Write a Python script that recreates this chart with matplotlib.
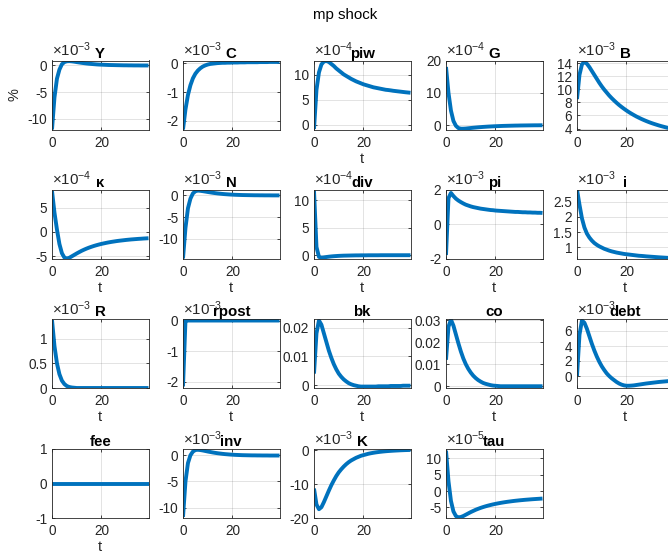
import matplotlib
matplotlib.use("Agg")
import matplotlib.pyplot as plt
import numpy as np

plt.rcParams['font.family'] = ['Liberation Sans', 'DejaVu Sans']
plt.rcParams['mathtext.fontset'] = 'custom'
plt.rcParams['mathtext.rm'] = 'Liberation Sans'

t = list(range(40))

names = ['Y', 'C', 'piw', 'G', 'B',
         'κ', 'N', 'div', 'pi', 'i',
         'R', 'rpost', 'bk', 'co', 'debt',
         'fee', 'inv', 'K', 'tau']

Y = [-12.0, -6.0, -2.5, -0.8, 0.2, 0.6, 0.75, 0.78, 0.74, 0.68, 0.6, 0.53, 0.46, 0.4, 0.34, 0.29, 0.25, 0.21, 0.17, 0.14,
     0.12, 0.1, 0.08, 0.06, 0.05, 0.04, 0.03, 0.02, 0.01, 0.0, 0.0, -0.01, -0.01, -0.02, -0.02, -0.02, -0.03, -0.03, -0.03, -0.03]
C = [-2.3, -1.6, -1.1, -0.76, -0.52, -0.36, -0.25, -0.17, -0.11, -0.07, -0.04, -0.02, -0.01, 0.0, 0.01, 0.015, 0.02, 0.02, 0.025, 0.025,
     0.03, 0.03, 0.03, 0.035, 0.035, 0.035, 0.04, 0.04, 0.04, 0.04, 0.04, 0.045, 0.045, 0.045, 0.045, 0.05, 0.05, 0.05, 0.05, 0.05]
piw = [-0.9, 7.0, 10.5, 12.1, 12.7, 12.8, 12.6, 12.2, 11.8, 11.3, 10.9, 10.5, 10.1, 9.8, 9.5, 9.2, 8.95, 8.7, 8.5, 8.3,
       8.1, 7.95, 7.8, 7.65, 7.5, 7.4, 7.3, 7.2, 7.1, 7.0, 6.95, 6.88, 6.8, 6.74, 6.68, 6.62, 6.56, 6.5, 6.45, 6.4]
G = [18.0, 10.0, 4.5, 1.3, -0.2, -0.9, -1.1, -1.1, -1.05, -0.97, -0.89, -0.81, -0.74, -0.67, -0.61, -0.55, -0.5, -0.45, -0.41, -0.37,
     -0.33, -0.3, -0.27, -0.24, -0.22, -0.2, -0.18, -0.16, -0.14, -0.13, -0.11, -0.1, -0.09, -0.08, -0.07, -0.06, -0.05, -0.05, -0.04, -0.04]
B = [8.5, 12.2, 13.8, 14.2, 13.9, 13.4, 12.8, 12.2, 11.6, 11.0, 10.45, 9.95, 9.5, 9.05, 8.65, 8.28, 7.93, 7.6, 7.3, 7.02,
     6.75, 6.5, 6.27, 6.05, 5.84, 5.65, 5.47, 5.3, 5.14, 4.99, 4.85, 4.72, 4.6, 4.48, 4.37, 4.27, 4.17, 4.08, 3.99, 3.9]
kappa = [8.5, 4.0, 0.5, -2.5, -4.4, -5.3, -5.5, -5.35, -5.05, -4.75, -4.45, -4.17, -3.9, -3.66, -3.44, -3.24, -3.06, -2.89, -2.74, -2.6,
         -2.47, -2.36, -2.25, -2.15, -2.06, -1.98, -1.9, -1.83, -1.77, -1.71, -1.65, -1.6, -1.55, -1.51, -1.47, -1.43, -1.4, -1.36, -1.33, -1.3]
N = [-14.5, -7.5, -3.0, -0.8, 0.4, 0.9, 1.05, 1.0, 0.92, 0.83, 0.73, 0.64, 0.55, 0.47, 0.4, 0.34, 0.28, 0.23, 0.19, 0.15,
     0.12, 0.09, 0.07, 0.05, 0.03, 0.02, 0.01, 0.0, -0.01, -0.02, -0.02, -0.03, -0.03, -0.04, -0.04, -0.04, -0.05, -0.05, -0.05, -0.05]
div = [11.8, 1.5, -0.3, -0.45, -0.4, -0.33, -0.27, -0.22, -0.18, -0.15, -0.12, -0.1, -0.08, -0.07, -0.06, -0.05, -0.04, -0.03, -0.03, -0.02,
       -0.02, -0.02, -0.01, -0.01, -0.01, -0.01, -0.01, 0.0, 0.0, 0.0, 0.0, 0.0, 0.0, 0.0, 0.0, 0.0, 0.0, 0.0, 0.0, 0.0]
pi_ = [-1.8, 1.5, 1.8, 1.62, 1.47, 1.36, 1.27, 1.19, 1.12, 1.07, 1.02, 0.98, 0.95, 0.92, 0.89, 0.87, 0.85, 0.83, 0.81, 0.8,
       0.78, 0.77, 0.76, 0.75, 0.74, 0.73, 0.72, 0.71, 0.7, 0.7, 0.69, 0.68, 0.68, 0.67, 0.67, 0.66, 0.66, 0.65, 0.65, 0.64]
i_ = [2.9, 2.4, 1.95, 1.65, 1.45, 1.32, 1.22, 1.14, 1.08, 1.03, 0.99, 0.95, 0.92, 0.89, 0.865, 0.845, 0.825, 0.81, 0.795, 0.78,
      0.77, 0.76, 0.75, 0.74, 0.73, 0.72, 0.715, 0.708, 0.7, 0.694, 0.688, 0.682, 0.676, 0.67, 0.665, 0.66, 0.655, 0.65, 0.645, 0.64]
R = [1.38, 0.85, 0.5, 0.28, 0.15, 0.08, 0.04, 0.02, 0.01, 0.005, 0.0, 0.0, 0.0, 0.0, 0.0, 0.0, 0.0, 0.0, 0.0, 0.0,
     0.0, 0.0, 0.0, 0.0, 0.0, 0.0, 0.0, 0.0, 0.0, 0.0, 0.0, 0.0, 0.0, 0.0, 0.0, 0.0, 0.0, 0.0, 0.0, 0.0]
rpost = [-2.15, 0.0, 0.0, 0.0, 0.0, 0.0, 0.0, 0.0, 0.0, 0.0, 0.0, 0.0, 0.0, 0.0, 0.0, 0.0, 0.0, 0.0, 0.0, 0.0,
         0.0, 0.0, 0.0, 0.0, 0.0, 0.0, 0.0, 0.0, 0.0, 0.0, 0.0, 0.0, 0.0, 0.0, 0.0, 0.0, 0.0, 0.0, 0.0, 0.0]
bk = [0.004, 0.018, 0.0225, 0.021, 0.018, 0.015, 0.012, 0.0095, 0.0073, 0.0055, 0.004, 0.0029, 0.002, 0.0013, 0.0007, 0.0003, 0.0, -0.0002, -0.0004, -0.0005,
      -0.0005, -0.0005, -0.0005, -0.0005, -0.0005, -0.0005, -0.0004, -0.0004, -0.0004, -0.0004, -0.0004, -0.0003, -0.0003, -0.0003, -0.0003, -0.0003, -0.0002, -0.0002, -0.0002, -0.0002]
co = [0.012, 0.027, 0.0302, 0.0275, 0.0235, 0.0195, 0.0158, 0.0126, 0.01, 0.0079, 0.0062, 0.0048, 0.0037, 0.0028, 0.0021, 0.0015, 0.0011, 0.0008, 0.0005, 0.0003,
      0.0002, 0.0001, 0.0, 0.0, 0.0, 0.0, 0.0, 0.0, 0.0, 0.0, 0.0, 0.0, 0.0, 0.0, 0.0, 0.0, 0.0, 0.0, 0.0, 0.0]
debt = [0.0, 5.5, 7.4, 7.1, 6.3, 5.3, 4.3, 3.4, 2.6, 1.9, 1.3, 0.8, 0.35, 0.0, -0.3, -0.55, -0.8, -1.0, -1.15, -1.25,
        -1.3, -1.3, -1.28, -1.25, -1.2, -1.15, -1.1, -1.05, -1.0, -0.96, -0.92, -0.88, -0.84, -0.8, -0.77, -0.74, -0.71, -0.68, -0.65, -0.62]
fee = [0.0] * 40
inv = [-11.8, -5.0, -1.5, 0.0, 0.7, 1.0, 1.05, 1.0, 0.92, 0.82, 0.72, 0.63, 0.54, 0.46, 0.39, 0.33, 0.27, 0.22, 0.18, 0.14,
       0.11, 0.08, 0.06, 0.04, 0.02, 0.01, 0.0, -0.01, -0.02, -0.02, -0.03, -0.03, -0.04, -0.04, -0.04, -0.05, -0.05, -0.05, -0.05, -0.05]
K = [-11.3, -16.0, -17.4, -16.8, -15.3, -13.6, -11.9, -10.3, -8.9, -7.6, -6.5, -5.6, -4.8, -4.1, -3.5, -3.0, -2.6, -2.2, -1.9, -1.6,
     -1.4, -1.2, -1.0, -0.85, -0.72, -0.6, -0.5, -0.41, -0.33, -0.26, -0.2, -0.15, -0.1, -0.06, -0.02, 0.02, 0.05, 0.08, 0.1, 0.12]
tau = [12.3, 3.0, -3.0, -6.2, -7.6, -8.0, -7.9, -7.6, -7.2, -6.8, -6.4, -6.05, -5.7, -5.4, -5.12, -4.87, -4.64, -4.43, -4.24, -4.06,
       -3.9, -3.75, -3.61, -3.48, -3.36, -3.25, -3.15, -3.05, -2.96, -2.88, -2.8, -2.73, -2.66, -2.6, -2.54, -2.48, -2.43, -2.38, -2.33, -2.28]

series = [Y, C, piw, G, B, kappa, N, div, pi_, i_, R, rpost, bk, co, debt, fee, inv, K, tau]
exponents = [-3, -3, -4, -4, -3, -4, -3, -4, -3, -3, -3, -3, None, None, -3, None, -3, -3, -5]
yticks = [[-10, -5, 0], [-2, -1, 0], [0, 5, 10], [0, 10, 20], [4, 6, 8, 10, 12, 14],
          [-5, 0, 5], [-10, -5, 0], [0, 5, 10], [-2, 0, 2], [1, 1.5, 2, 2.5],
          [0, 0.5, 1], [-2, -1, 0], [0, 0.01, 0.02], [0, 0.01, 0.02, 0.03], [0, 2, 4, 6],
          [-1, 0, 1], [-10, -5, 0], [-20, -10, 0], [-5, 0, 5, 10]]
ylims = [(-12.0, 0.9), (-2.3, 0.1), (-1.0, 12.9), (-1.35, 20.0), (3.85, 14.4),
         (-5.5, 8.8), (-14.5, 1.3), (-0.6, 12.0), (-2.0, 2.0), (0.63, 2.9),
         (0.0, 1.4), (-2.2, 0.05), (-0.001, 0.023), (-0.0008, 0.0305), (-1.6, 7.6),
         (-1.0, 1.0), (-12.0, 1.2), (-20.0, 0.4), (-8.2, 12.8)]
has_xlabel = [False, False, True, False, False,
              True, True, True, True, True,
              True, True, True, True, True,
              True, False, False, False]

W, H = 668, 554
fig = plt.figure(figsize=(W / 100, H / 100), dpi=100)
lefts = [52, 183, 314, 446, 577]
tops = [60.5, 189.5, 319, 449]
aw, ah = 96.5, 69

tc = '#262626'
for k, name in enumerate(names):
    r, c = divmod(k, 5)
    ax = fig.add_axes([lefts[c] / W, 1 - (tops[r] + ah) / H, aw / W, ah / H])
    ax.plot(t, series[k], color='#0072BD', lw=2.8, solid_capstyle='butt', clip_on=True)
    ax.set_xlim(0, 39)
    ax.set_ylim(*ylims[k])
    ax.set_xticks([0, 20])
    ax.set_yticks(yticks[k])
    ax.set_yticklabels([('%g' % v) for v in yticks[k]])
    ax.grid(True, color='#262626', alpha=0.15, lw=0.6)
    ax.set_axisbelow(True)
    ax.tick_params(direction='in', length=2.5, width=0.6, colors=tc, labelsize=9.8,
                   top=True, right=True)
    ax.tick_params(axis='x', pad=4.5)
    ax.tick_params(axis='y', pad=3.5)
    for s in ax.spines.values():
        s.set_color(tc)
        s.set_linewidth(0.6)
    ax.set_title(name, fontsize=10.8, fontweight='bold', pad=2, color='black')
    if exponents[k] is not None:
        ax.text(0.0, 1.015, r'$\mathregular{\times10^{%d}}$' % exponents[k],
                transform=ax.transAxes, ha='left', va='bottom', fontsize=10.8, color=tc)
    if has_xlabel[k]:
        ax.set_xlabel('t', fontsize=10.5, color=tc, labelpad=1.5)
    if k == 0:
        ax.set_ylabel('%', fontsize=10.5, color=tc, labelpad=4)

fig.text(345 / W, 1 - 15 / H, 'mp shock', ha='center', va='center', fontsize=10.8, color='black')

fig.savefig('out.png', dpi=100)
